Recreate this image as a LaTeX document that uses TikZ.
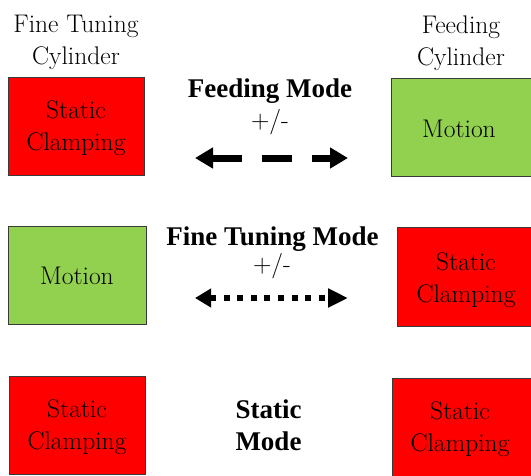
\documentclass[tikz,border=0pt]{standalone}
\usepackage{fontspec}
\setmainfont{Liberation Serif}
\newfontfamily\labelserif{Latin Modern Roman}
\usetikzlibrary{arrows.meta}
\definecolor{clampred}{HTML}{FF0000}
\definecolor{motiongreen}{HTML}{92D050}
\definecolor{boxedge}{HTML}{3A3A3A}
\tikzset{
  lbl/.style={font=\labelserif\fontsize{25.5}{32}\selectfont, align=center, inner sep=0pt},
  boldlbl/.style={font=\fontsize{27}{32}\selectfont\bfseries, align=center, inner sep=0pt},
  clampbox/.style={fill=clampred, draw=boxedge, line width=0.8pt},
  motionbox/.style={fill=motiongreen, draw=boxedge, line width=0.8pt},
  modearrow/.style={line width=7pt,
    {Triangle[length=18pt,width=20pt]}-{Triangle[length=18pt,width=20pt]}},
}
\begin{document}
\begin{tikzpicture}[x=1pt,y=-1pt]
\path[use as bounding box, fill=white] (0,0) rectangle (531,475);

% boxes of the three rows (the right column runs off the page edge)
\path[clampbox]  (8,77)    rectangle (144,175);
\path[motionbox] (391,78)  rectangle (540,176);
\path[motionbox] (8,226)   rectangle (146,324);
\path[clampbox]  (397,227) rectangle (540,326);
\path[clampbox]  (9,376)   rectangle (145,474);
\path[clampbox]  (392,378) rectangle (540,490);

% cylinder headings
\node[lbl] (ftcyl) at (76,42.8) {Fine Tuning\\Cylinder};
\node[lbl] (fdcyl) at (461,42.8) {Feeding\\Cylinder};

% box labels
\node[lbl] (s1) at (76,128) {Static\\Clamping};
\node[lbl] (m1) at (459,129) {Motion};
\node[lbl] (m2) at (77,276) {Motion};
\node[lbl] (s2) at (466,279.7) {Static\\Clamping};
\node[lbl] (s3) at (77,427.2) {Static\\Clamping};
\node[lbl] (s4) at (460,428.7) {Static\\Clamping};

% mode labels
\node[boldlbl, anchor=base] (feedmode) at (270,97) {Feeding Mode};
\node[lbl, anchor=base] (pm1) at (270,128) {+/-};
\node[boldlbl, anchor=base] (ftmode) at (272.5,245) {Fine Tuning Mode};
\node[lbl, anchor=base] (pm2) at (272,272) {+/-};
\node[boldlbl] (statmode) at (268.5,425.5) {Static\\Mode};

% mode arrows: dashed for feeding, dotted for fine tuning
\coordinate (a1l) at (195,158);
\coordinate (a1r) at (348,158);
\draw[modearrow, dash pattern=on 30pt off 20pt] (a1l) -- (a1r);
\coordinate (a2l) at (195,298);
\coordinate (a2r) at (348,298);
\draw[line width=6pt,
  {Triangle[length=16pt,width=18pt]}-{Triangle[length=20pt,width=18pt]},
  dash pattern=on 6pt off 7.6pt] (a2l) -- (a2r);
\end{tikzpicture}
\end{document}
